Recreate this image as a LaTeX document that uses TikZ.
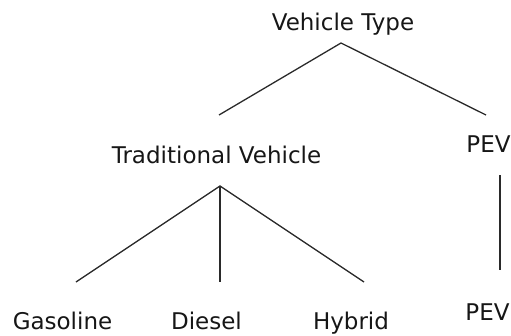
\documentclass[tikz,border=0pt]{standalone}
\usepackage{fontspec}
\newfontfamily\treefont{DejaVu Sans}
\definecolor{inkgray}{HTML}{161616}
\definecolor{linegray}{HTML}{2A2A2A}

\begin{document}
\begin{tikzpicture}[x=1pt,y=-1pt,
  lbl/.style={anchor=base,inner sep=0pt,text=inkgray,font=\treefont\fontsize{23}{27}\selectfont},
  branch/.style={draw=linegray,line width=1.3pt}]
  \useasboundingbox (0,0) rectangle (511,335);
%  labels
  \node[lbl] (vt) at (343,30.5) {Vehicle Type};
  \node[lbl] (tv) at (216.5,163) {Traditional Vehicle};
  \node[lbl] (pev) at (488.5,152) {PEV};
  \node[lbl] (gas) at (62.5,329) {Gasoline};
  \node[lbl] (dsl) at (206.5,329) {Diesel};
  \node[lbl] (hyb) at (351,329) {Hybrid};
  \node[lbl] (pevb) at (487.5,320) {PEV};
%  branch ends
  \coordinate (vt-j) at (341,43);
  \coordinate (tv-up) at (219,115);
  \coordinate (pev-up) at (486,115);
  \coordinate (tv-j) at (220,186);
  \coordinate (gas-up) at (76,282);
  \coordinate (dsl-up) at (220,282);
  \coordinate (hyb-up) at (364,282);
  \coordinate (pev-j) at (500,175);
  \coordinate (pevb-up) at (500,270);
  \draw[branch] (tv-up) -- (vt-j) -- (pev-up);
  \draw[branch] (gas-up) -- (tv-j) -- (hyb-up);
  \draw[branch] (tv-j) -- (dsl-up);
  \draw[branch] (pev-j) -- (pevb-up);
\end{tikzpicture}
\end{document}
